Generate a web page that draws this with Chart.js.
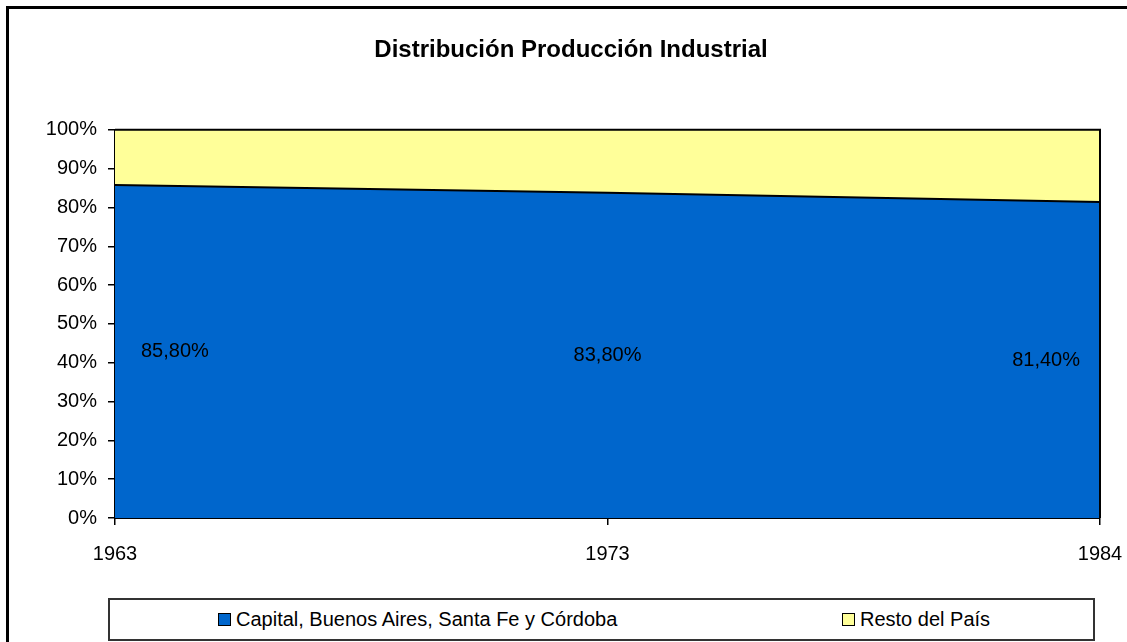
<!DOCTYPE html>
<html>
<head>
<meta charset="utf-8">
<script src="https://cdn.jsdelivr.net/npm/chart.js@4/dist/chart.umd.min.js"></script>
<style>
    html, body { margin: 0; padding: 0; background: #fff; overflow: hidden; }
    #wrap { position: relative; width: 1127px; height: 642px; }
    #frame { position: absolute; left: 6px; top: 6px; width: 1200px; height: 700px; border: 3px solid #000; }
    #chart { position: absolute; left: 0; top: 0; }
    #legend {
        position: absolute; left: 108px; top: 598px; width: 983px; height: 39px;
        border: 2px solid #333; background: #fff;
        font-family: "Liberation Sans", Arial, sans-serif;
        font-size: 20px; color: #000;
    }
    .legend-item { position: absolute; top: 0; height: 39px; display: flex; align-items: center; white-space: nowrap; }
    .legend-box { width: 11px; height: 11px; border: 1px solid #000; margin-right: 5px; }
</style>
</head>
<body>
<div id="wrap">
    <div id="frame"></div>
    <canvas id="chart" width="1127" height="642"></canvas>
    <div id="legend"></div>
</div>
<script>
// ========== Data
let years = ['1963', '1973', '1984'];
let capitalShare = [85.8, 83.8, 81.4];
let restoShare = [14.2, 16.2, 18.6];
let seriesNames = ['Capital, Buenos Aires, Santa Fe y Córdoba', 'Resto del País'];

// ========== Colors
let capitalColor = '#0066CC';
let restoColor = '#FFFF99';

let fontFamily = '"Liberation Sans", Arial, sans-serif';

// @ ========== Borde del área de trazado + etiquetas de valores
let plotFramePlugin = {
    id: 'plotFrame',
    afterDatasetsDraw(chart) {
        let ctx = chart.ctx;
        let area = chart.chartArea;
        let xScale = chart.scales.x;
        let yScale = chart.scales.y;
        ctx.save();
        ctx.strokeStyle = '#000';
        ctx.lineWidth = 2;
        ctx.beginPath();
        ctx.moveTo(area.left, area.top);
        ctx.lineTo(area.right, area.top);
        ctx.lineTo(area.right, area.bottom);
        ctx.stroke();

        // etiquetas dentro del área azul
        ctx.font = '20px ' + fontFamily;
        ctx.fillStyle = '#000';
        ctx.textBaseline = 'middle';
        capitalShare.forEach((v, i) => {
            let x = xScale.getPixelForValue(i);
            let y = yScale.getPixelForValue(v / 2);
            let text = v.toFixed(2).replace('.', ',') + '%';
            if (i === 0) {
                ctx.textAlign = 'left';
                x += 26;
            } else if (i === capitalShare.length - 1) {
                ctx.textAlign = 'right';
                x -= 20;
            } else {
                ctx.textAlign = 'center';
            }
            ctx.fillText(text, x, y);
        });
        ctx.restore();
    }
};

let canvas = document.getElementById('chart');
let chart = new Chart(canvas, {
    type: 'line',
    data: {
        labels: years,
        datasets: [
            {
                label: seriesNames[0],
                data: capitalShare,
                backgroundColor: capitalColor,
                borderColor: '#000',
                borderWidth: 2,
                fill: 'origin',
                pointRadius: 0,
                tension: 0
            },
            {
                label: seriesNames[1],
                data: restoShare,
                backgroundColor: restoColor,
                borderColor: '#000',
                borderWidth: 0,
                fill: '-1',
                pointRadius: 0,
                tension: 0
            }
        ]
    },
    options: {
        responsive: false,
        animation: false,
        layout: { padding: { left: 42, right: 27, top: 0, bottom: 64 } },
        plugins: {
            legend: { display: false },
            tooltip: { enabled: false },
            title: {
                display: true,
                text: 'Distribución Producción Industrial',
                color: '#000',
                font: { family: fontFamily, size: 24, weight: 'bold' },
                padding: { top: 36, bottom: 65 }
            }
        },
        scales: {
            x: {
                offset: false,
                grid: { drawOnChartArea: false, drawTicks: true, tickLength: 7, color: '#000', lineWidth: 1.5 },
                border: { display: true, color: '#000', width: 2 },
                ticks: { color: '#000', font: { family: fontFamily, size: 20 }, padding: 17, maxRotation: 0, autoSkip: false },
                afterFit(scale) {
                    scale.height = 60;
                    scale.paddingLeft = 0;
                    scale.paddingRight = 0;
                }
            },
            y: {
                stacked: true,
                min: 0,
                max: 100,
                grid: { drawOnChartArea: false, drawTicks: true, tickLength: 7, color: '#000', lineWidth: 1.5 },
                border: { display: true, color: '#000', width: 2 },
                ticks: {
                    stepSize: 10,
                    color: '#000',
                    font: { family: fontFamily, size: 20 },
                    padding: 11,
                    callback: (v) => v + '%'
                },
                afterFit(scale) { scale.width = 73; }
            }
        }
    },
    plugins: [plotFramePlugin]
});

// @ ========== Leyenda
let legendEl = document.getElementById('legend');
let legendLefts = [108, 732];
chart.data.datasets.forEach((ds, i) => {
    let item = document.createElement('div');
    item.className = 'legend-item';
    item.style.left = legendLefts[i] + 'px';
    let box = document.createElement('span');
    box.className = 'legend-box';
    box.style.background = ds.backgroundColor;
    let label = document.createElement('span');
    label.textContent = ds.label;
    item.appendChild(box);
    item.appendChild(label);
    legendEl.appendChild(item);
});
</script>
</body>
</html>
